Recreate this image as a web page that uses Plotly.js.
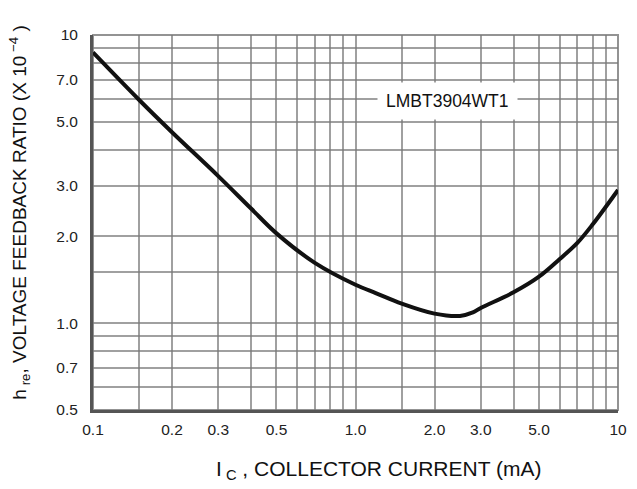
<!DOCTYPE html>
<html>
<head>
<meta charset="utf-8">
<script src="https://cdn.plot.ly/plotly-3.0.1.min.js"></script>
<style>html,body{margin:0;padding:0;background:#fff;}#chart{width:637px;height:489px;}</style>
</head>
<body>
<div id="chart"></div>
<script>
// Collector current (mA) and h_re (x 10^-4)
const collectorCurrent = [0.1, 0.15, 0.2, 0.3, 0.4, 0.5, 0.7, 1.0, 1.2, 1.5, 2.0, 2.5, 2.8, 3.0, 4.0, 5.0, 6.0, 7.0, 8.0, 10.0];
const hre = [8.7, 5.95, 4.6, 3.24, 2.5, 2.05, 1.62, 1.36, 1.27, 1.17, 1.08, 1.06, 1.09, 1.13, 1.28, 1.45, 1.67, 1.9, 2.2, 2.9];

const xGridVals = [0.1, 0.15, 0.2, 0.3, 0.4, 0.5, 0.6, 0.7, 0.8, 0.9, 1.0, 1.5, 2, 3, 4, 5, 6, 7, 8, 9, 10];
const xGridText = ['0.1', '', '0.2', '0.3', '', '0.5', '', '', '', '', '1.0', '', '2.0', '3.0', '', '5.0', '', '', '', '', '10'];
const yGridVals = [0.5, 0.6, 0.7, 0.8, 0.9, 1.0, 1.5, 2, 3, 4, 5, 6, 7, 8, 9, 10];
const yGridText = ['0.5', '', '0.7', '', '', '1.0', '', '2.0', '3.0', '', '5.0', '', '7.0', '', '', '10'];
const deviceLabel = 'LMBT3904WT1';
const xTitle = 'I<sub> C</sub> , COLLECTOR CURRENT (mA)';
const yTitle = 'h<sub> re</sub>, VOLTAGE FEEDBACK RATIO (X 10<sup> \u22124</sup> )';

const font = 'Liberation Sans, Arial, sans-serif';

const trace = {
  x: collectorCurrent,
  y: hre,
  type: 'scatter',
  mode: 'lines',
  line: {color: '#111', width: 4, shape: 'spline', smoothing: 1},
  hoverinfo: 'none'
};

const layout = {
  width: 637,
  height: 489,
  margin: {l: 93, r: 19, t: 35, b: 79},
  paper_bgcolor: '#fff',
  plot_bgcolor: '#fff',
  showlegend: false,
  font: {family: font, color: '#222', size: 15},
  xaxis: {
    type: 'log',
    range: [-1, 1],
    tickmode: 'array',
    tickvals: xGridVals,
    ticktext: xGridText,
    showgrid: true,
    gridcolor: 'rgba(120,120,120,0.7)',
    gridwidth: 2,
    showline: true,
    linecolor: '#555',
    linewidth: 3,
    ticks: '',
    zeroline: false,
    ticklabelstandoff: 3,
    tickfont: {family: font, size: 15.5, color: '#222'}
  },
  yaxis: {
    type: 'log',
    range: [Math.log10(0.5), 1],
    tickmode: 'array',
    tickvals: yGridVals,
    ticktext: yGridText,
    showgrid: true,
    gridcolor: 'rgba(120,120,120,0.7)',
    gridwidth: 2,
    showline: true,
    linecolor: '#555',
    linewidth: 3,
    ticks: '',
    zeroline: false,
    ticklabelstandoff: 9,
    tickfont: {family: font, size: 15.5, color: '#222'}
  },
  shapes: [{
    type: 'rect', xref: 'paper', yref: 'paper', x0: 0, x1: 1, y0: 0, y1: 1,
    line: {color: 'rgba(120,120,120,0.8)', width: 2}, layer: 'below'
  }],
  annotations: [{
    xref: 'paper', yref: 'paper', x: 0.676, y: 0.824, xanchor: 'center', yanchor: 'middle',
    text: deviceLabel, showarrow: false, bgcolor: '#fff', borderpad: 8,
    font: {family: font, size: 17.5, color: '#111'}
  }, {
    xref: 'paper', yref: 'paper', x: 0.544, y: -0.16, xanchor: 'center', yanchor: 'middle',
    text: xTitle, showarrow: false,
    font: {family: font, size: 21, color: '#111'}
  }, {
    xref: 'paper', yref: 'paper', x: -0.14, y: 0.525, xanchor: 'center', yanchor: 'middle',
    text: yTitle, showarrow: false, textangle: -90,
    font: {family: font, size: 19, color: '#111'}
  }]
};

Plotly.newPlot('chart', [trace], layout, {displayModeBar: false, staticPlot: true});
</script>
</body>
</html>
